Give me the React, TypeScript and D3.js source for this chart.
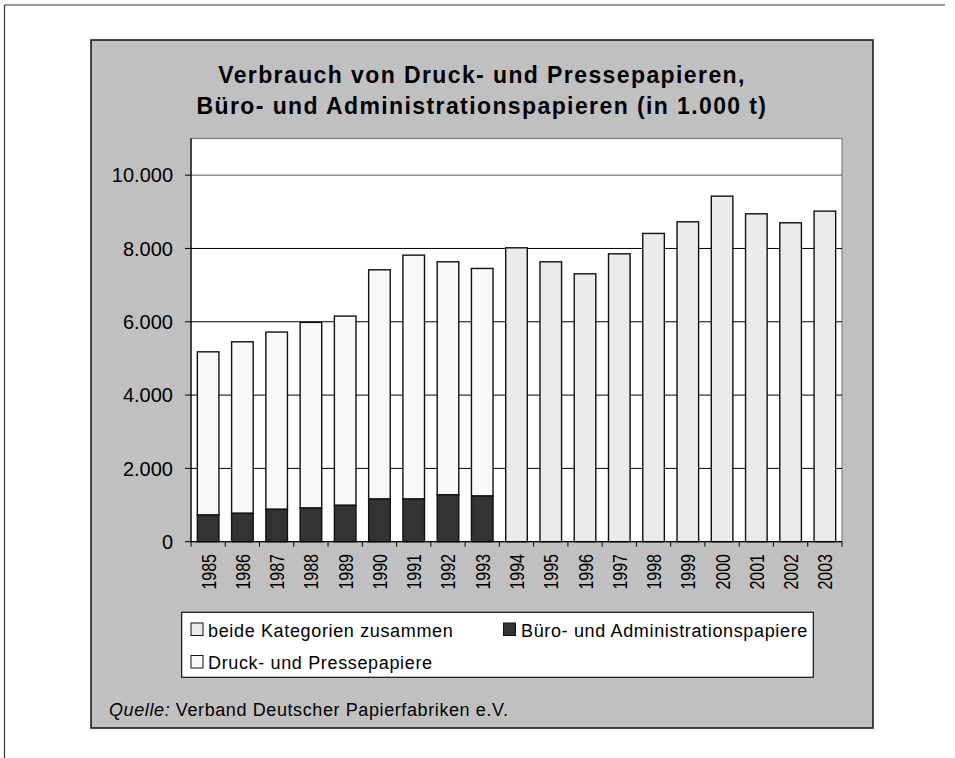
import React from "react";
import * as d3 from "d3";

const years = ["1985","1986","1987","1988","1989","1990","1991","1992","1993","1994","1995","1996","1997","1998","1999","2000","2001","2002","2003"];
// Büro- und Administrationspapiere (1985–1993)
const bueroValues = [728, 774, 883, 919, 992, 1164, 1164, 1282, 1246];
// Druck- und Pressepapiere (1985–1993), stacked on top of Büro
const druckValues = [4452, 4680, 4836, 5064, 5163, 6254, 6654, 6354, 6209];
// beide Kategorien zusammen (1994–2003)
const beideValues = [8018, 7636, 7309, 7854, 8410, 8727, 9427, 8945, 8700, 9018];
const yTicks = [0, 2000, 4000, 6000, 8000, 10000];
const titleLines = ["Verbrauch von Druck- und Pressepapieren,", "Büro- und Administrationspapieren (in 1.000 t)"];

const FONT = "'Liberation Sans', Arial, sans-serif";

export default function App() {
  const W = 955, H = 758;
  const plot = { left: 191, right: 842, top: 138.5, bottom: 541.7 };
  const x = d3.scaleBand<string>().domain(years).range([plot.left, plot.right]).paddingInner(0.37).paddingOuter(0.185);
  const y = d3.scaleLinear().domain([0, 11000]).range([plot.bottom, plot.top]);
  const fmt = (v: number) => d3.format(",")(v).replace(/,/g, ".");
  const step = x.step();

  const bars: JSX.Element[] = [];
  years.forEach((yr, i) => {
    const bx = x(yr)!;
    const bw = x.bandwidth();
    if (i < bueroValues.length) {
      const b = bueroValues[i];
      const d = druckValues[i];
      bars.push(<rect key={"d" + yr} x={bx} y={y(b + d)} width={bw} height={y(b) - y(b + d)} fill="#f8f8f8" stroke="#111" strokeWidth={1.4} />);
      bars.push(<rect key={"b" + yr} x={bx} y={y(b)} width={bw} height={y(0) - y(b)} fill="#333333" stroke="#111" strokeWidth={1.4} />);
    } else {
      const v = beideValues[i - bueroValues.length];
      bars.push(<rect key={"e" + yr} x={bx} y={y(v)} width={bw} height={y(0) - y(v)} fill="#ebebeb" stroke="#111" strokeWidth={1.4} />);
    }
  });

  const legendFont = { fontSize: 18, letterSpacing: 0.65 };

  return (
    <svg width={W} height={H} style={{ position: "absolute", left: 0, top: 0 }} fontFamily={FONT}>
      <rect x={0} y={0} width={W} height={H} fill="#ffffff" />
      {/* outer frame lines */}
      <line x1={4.5} y1={5} x2={945} y2={5} stroke="#333" strokeWidth={1.2} />
      <line x1={4.5} y1={5} x2={4.5} y2={H} stroke="#333" strokeWidth={1.2} />
      {/* gray chart area */}
      <rect x={91} y={40} width={782} height={688} fill="#c0c0c0" stroke="#111" strokeWidth={1.5} />
      {/* title */}
      {titleLines.map((t, i) => (
        <text key={t} x={482} y={82.5 + i * 31} textAnchor="middle" fontSize={23} letterSpacing={1.4} fontWeight="bold" fill="#000">{t}</text>
      ))}
      {/* plot area */}
      <rect x={plot.left} y={plot.top} width={plot.right - plot.left} height={plot.bottom - plot.top} fill="#ffffff" stroke="#808080" strokeWidth={1.2} />
      {yTicks.filter(t => t > 0).map(t => (
        <line key={"g" + t} x1={plot.left} x2={plot.right} y1={y(t)} y2={y(t)} stroke={t === 10000 ? "#555" : "#000"} strokeWidth={1} />
      ))}
      {bars}
      {/* y axis */}
      <line x1={plot.left} x2={plot.left} y1={plot.top} y2={plot.bottom} stroke="#000" strokeWidth={1.2} />
      {yTicks.map(t => (
        <g key={"yt" + t}>
          <line x1={plot.left - 6} x2={plot.left} y1={y(t)} y2={y(t)} stroke="#000" strokeWidth={1} />
          <text x={173} y={y(t)} dy="0.36em" textAnchor="end" fontSize={20} fill="#000">{fmt(t)}</text>
        </g>
      ))}
      {/* x axis */}
      <line x1={plot.left} x2={plot.right} y1={plot.bottom} y2={plot.bottom} stroke="#000" strokeWidth={1.2} />
      {years.map((yr, i) => (
        <line key={"xt" + yr} x1={plot.left + i * step} x2={plot.left + i * step} y1={plot.bottom} y2={plot.bottom + 5} stroke="#000" strokeWidth={1} />
      ))}
      <line x1={plot.right} x2={plot.right} y1={plot.bottom} y2={plot.bottom + 5} stroke="#000" strokeWidth={1} />
      {years.map(yr => {
        const cx = x(yr)! + x.bandwidth() / 2;
        return (
          <text key={"xl" + yr} transform={`translate(${cx + 7.5},554) rotate(-90) scale(0.8,1)`} textAnchor="end" fontSize={20} fill="#000">{yr}</text>
        );
      })}
      {/* legend */}
      <rect x={181.7} y={612.3} width={631.6} height={65} fill="#ffffff" stroke="#111" strokeWidth={1.2} />
      <rect x={191} y={623} width={12} height={12.5} fill="#ebebeb" stroke="#111" strokeWidth={1} />
      <text x={208} y={636.5} {...legendFont} fill="#000">beide Kategorien zusammen</text>
      <rect x={503.5} y={623} width={12} height={12.5} fill="#333333" stroke="#111" strokeWidth={1} />
      <text x={521} y={636.5} {...legendFont} fill="#000">Büro- und Administrationspapiere</text>
      <rect x={191} y={655.5} width={12} height={12.5} fill="#f8f8f8" stroke="#111" strokeWidth={1} />
      <text x={208} y={669} {...legendFont} fill="#000">Druck- und Pressepapiere</text>
      {/* source */}
      <text x={109} y={716} fontSize={18} letterSpacing={0.6} fill="#000">
        <tspan fontStyle="italic">Quelle:</tspan>
        <tspan> Verband Deutscher Papierfabriken e.V.</tspan>
      </text>
    </svg>
  );
}
